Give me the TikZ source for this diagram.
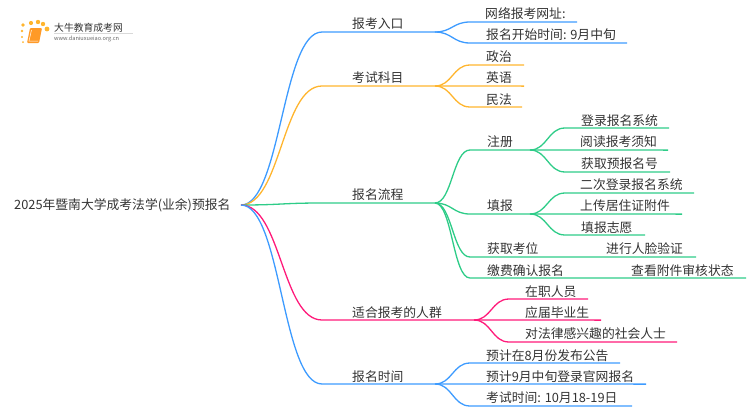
\documentclass[tikz,border=0pt]{standalone}
\usepackage{fontspec}
\setmainfont{Noto Sans CJK SC}
\usepackage{xcolor}
\usetikzlibrary{positioning}
\definecolor{darktext}{RGB}{51, 51, 51}
\definecolor{blueline}{RGB}{61, 155, 255}
\definecolor{orangeline}{RGB}{255, 181, 46}
\definecolor{greenline}{RGB}{46, 204, 136}
\definecolor{pinkline}{RGB}{255, 26, 122}
\begin{document}
\begin{tikzpicture}[
    x=1pt, y=-1pt,
    label/.style={anchor=west, inner sep=0pt, yshift=-0.8pt, text=darktext, font=\fontsize{12.8}{14}\selectfont},
    limb/.style={to path={.. controls +(#1,0) and +(-#1,0) .. (\tikztotarget)}},
    blue/.style={draw=blueline, line width=1.3pt},
    orange/.style={draw=orangeline, line width=1.3pt},
    green/.style={draw=greenline, line width=1.3pt},
    pink/.style={draw=pinkline, line width=1.3pt}
]
    \useasboundingbox (0,0) rectangle (750,410);

    % Logo
    \fill[orangeline] (23,25) circle (1.8) (31,23) circle (2.1) (38,22) circle (2.2) (43,24) circle (2.2) (47,29) circle (2.4) (22,31) circle (1.4) (22,37) circle (1.2) (23,42) circle (1);
    \fill[orangeline!85!red, rounded corners=1pt] (30,28) -- (42,28) -- (39,43) -- (27,43) -- cycle;
    \draw[white, line width=0.5pt] (31.5,30) -- (29,41) -- (38,41);
    \node[label, font=\fontsize{9.8}{11}\selectfont] (logoname) at (54,27) {大牛教育成考网};
    \draw[black!15, line width=0.4pt] (54,33) -- (133,33);
    \node[label, text=black!60, font=\fontsize{5.6}{6}\selectfont] (logourl) at (54,38.5) {www.daniuxueiao.org.cn};

    % Nodes - root
    \node[label] (rootname) at (14,205) {2025年暨南大学成考法学(业余)预报名};
    \coordinate (root) at (241,205);

    % Nodes - branches
    \node[label] (entry) at (352,23) {报考入口};
    \node[label] (subjects) at (352,77) {考试科目};
    \node[label] (process) at (352,194) {报名流程};
    \node[label] (people) at (352,312) {适合报考的人群};
    \node[label] (dates) at (352,376) {报名时间};

    % Nodes - leaves
    \node[label] (website) at (485,13) {网络报考网址:};
    \node[label] (opening) at (486,34) {报名开始时间: 9月中旬};
    \node[label] (politics) at (486,56) {政治};
    \node[label] (english) at (486,77) {英语};
    \node[label] (law) at (486,99) {民法};
    \node[label] (register) at (487,141) {注册};
    \node[label] (fillin) at (487,205) {填报};
    \node[label] (seat) at (487,248) {获取考位};
    \node[label] (payment) at (487,270) {缴费确认报名};
    \node[label] (login) at (581,120) {登录报名系统};
    \node[label] (notice) at (580,141) {阅读报考须知};
    \node[label] (number) at (581,163) {获取预报名号};
    \node[label] (relogin) at (580,184) {二次登录报名系统};
    \node[label] (upload) at (580,205) {上传居住证附件};
    \node[label] (wishes) at (581,227) {填报志愿};
    \node[label] (face) at (606,248) {进行人脸验证};
    \node[label] (review) at (631,270) {查看附件审核状态};
    \node[label] (employed) at (525,291) {在职人员};
    \node[label] (graduates) at (525,312) {应届毕业生};
    \node[label] (public) at (525,333) {对法律感兴趣的社会人士};
    \node[label] (august) at (486,355) {预计在8月份发布公告};
    \node[label] (september) at (486,376) {预计9月中旬登录官网报名};
    \node[label] (exam) at (486,397) {考试时间: 10月18-19日};

    % Branch junctions
    \coordinate (entry-in) at (322,32);
    \coordinate (entry-out) at (435,32);
    \coordinate (subjects-in) at (322,86);
    \coordinate (subjects-out) at (435,86);
    \coordinate (process-in) at (322,203);
    \coordinate (process-out) at (435,203);
    \coordinate (people-in) at (322,320);
    \coordinate (people-out) at (474,320);
    \coordinate (dates-in) at (322,384);
    \coordinate (dates-out) at (435,384);
    \coordinate (register-in) at (470,150);
    \coordinate (register-out) at (530,150);
    \coordinate (fillin-in) at (470,214);
    \coordinate (fillin-out) at (530,214);

    % Connectors - branches
    \draw[blue] (root) to[limb=40] (entry-in) -- (entry-out);
    \draw[orange] (root) to[limb=40] (subjects-in) -- (subjects-out);
    \draw[green] (root) to[limb=40] (process-in) -- (process-out);
    \draw[pink] (root) to[limb=40] (people-in) -- (people-out);
    \draw[blue] (root) to[limb=40] (dates-in) -- (dates-out);

    % Connectors - leaves
    \draw[blue] (entry-out) to[limb=17] (470,22) -- (577,22);
    \draw[blue] (entry-out) to[limb=17] (470,43) -- (627,43);
    \draw[orange] (subjects-out) to[limb=17] (470,65) -- (524,65);
    \draw[orange] (subjects-out) -- (524,86.1);
    \draw[orange] (subjects-out) to[limb=17] (470,107) -- (522,107);
    \draw[green] (process-out) to[limb=17] (register-in) -- (register-out);
    \draw[green] (process-out) to[limb=17] (fillin-in) -- (fillin-out);
    \draw[green] (process-out) to[limb=17] (470,257) -- (696,257);
    \draw[green] (process-out) to[limb=17] (470,278) -- (746,278);
    \draw[green] (register-out) to[limb=17] (565,128) -- (669,128);
    \draw[green] (register-out) -- (668,150.1);
    \draw[green] (register-out) to[limb=17] (565,172) -- (670,172);
    \draw[green] (fillin-out) to[limb=17] (565,193) -- (694,193);
    \draw[green] (fillin-out) -- (682,214.1);
    \draw[green] (fillin-out) to[limb=17] (565,235) -- (645,235);
    \draw[pink] (people-out) to[limb=17] (509,299) -- (588,299);
    \draw[pink] (people-out) -- (601,320.1);
    \draw[pink] (people-out) to[limb=17] (509,342) -- (677,342);
    \draw[blue] (dates-out) to[limb=17] (470,363) -- (620,363);
    \draw[blue] (dates-out) -- (646,384.1);
    \draw[blue] (dates-out) to[limb=17] (470,406) -- (632,406);
\end{tikzpicture}
\end{document}
